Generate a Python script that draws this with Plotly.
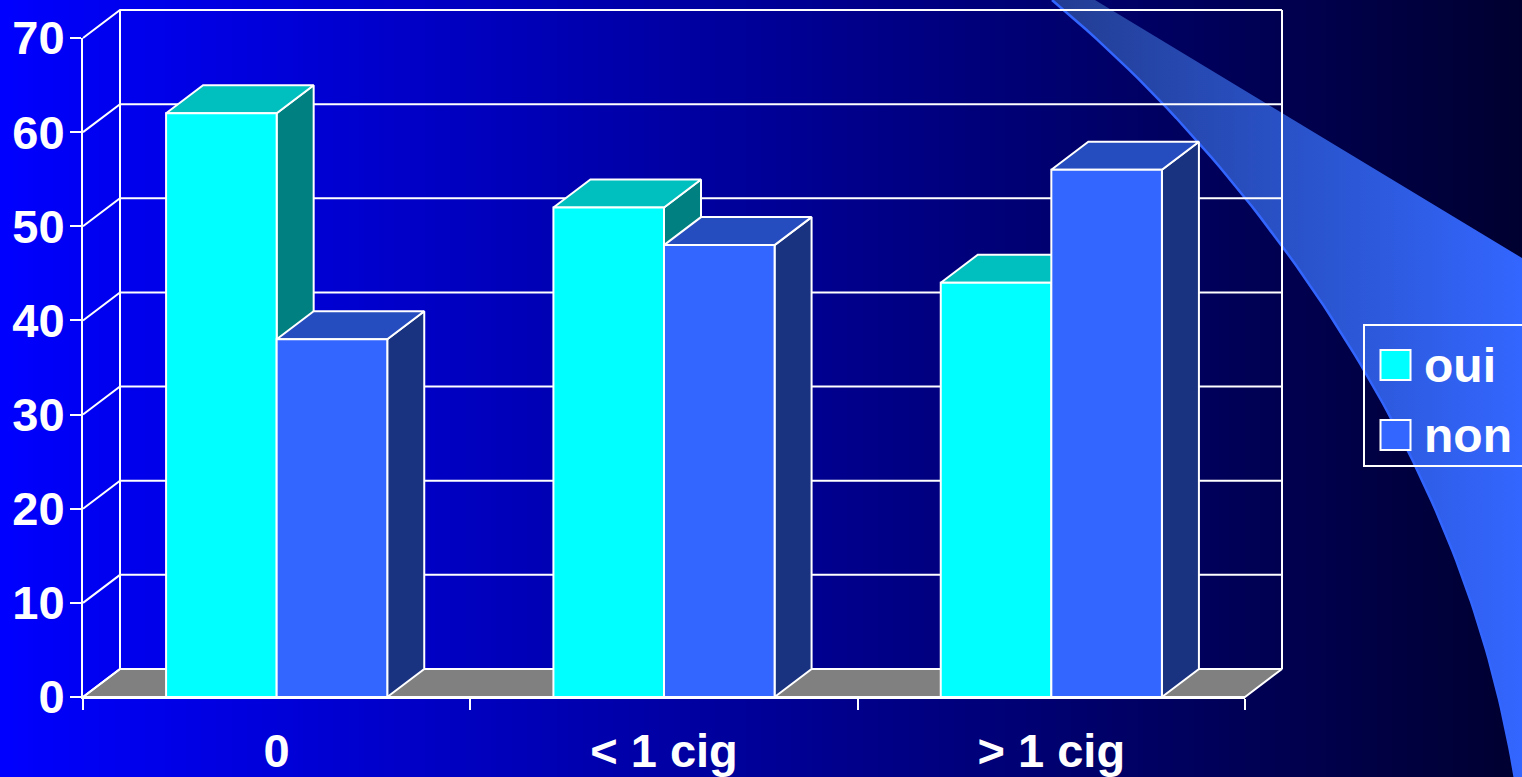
import numpy as np
import plotly.graph_objects as go

# ---- data ----
categories = ["0", "< 1 cig", "> 1 cig"]
oui_values = [62, 52, 44]
non_values = [38, 48, 56]
series_names = ["oui", "non"]
y_ticks = [0, 10, 20, 30, 40, 50, 60, 70]

# ---- styles ----
WHITE = "#ffffff"
FONT = dict(family="Liberation Sans, Arial, sans-serif", size=47, color=WHITE)
LEGEND_FONT = dict(FONT, size=48)
OUI = dict(front="#00ffff", top="#00bfbf", side="#008080")
NON = dict(front="#3366ff", top="#264dbf", side="#1a3380")
W, H = 1522, 777
X0, X1, Y0, Y1 = 83, 1245, 697, 38
PX_X = (X1 - X0) / len(categories)     # pixels per category
PX_Y = (Y0 - Y1) / y_ticks[-1]         # pixels per value unit
DX = 37 / PX_X                         # depth, category units
DY = 28 / PX_Y                         # depth, value units
PAD = 6                                # pixels of slack round the depth subplot
BAR_W = 0.2855
LW = 2
XS = list(range(len(categories)))
XL, XR = -0.5, len(categories) - 0.5
TOP = y_ticks[-1]

fig = go.Figure()

# ---- page backdrop (pixel axes x/y) ----
col = np.linspace(0, 1, 300)
fig.add_trace(go.Heatmap(x=np.linspace(0, W, 300), y=[0, H], z=[col, col], xaxis="x", yaxis="y",
                         colorscale=[[0, "rgb(0,0,255)"], [1, "rgb(0,0,48)"]],
                         showscale=False, hoverinfo="skip"))
read_x = [1052, 1162, 1197, 1243, 1280, 1320, 1340, 1363, 1383, 1412, 1440, 1467, 1487, 1503, 1515]
read_y = [0, 103, 140, 197, 243, 300, 328, 368, 407, 460, 520, 587, 653, 720, 777]
edge_y = np.linspace(0, H, 80)
edge_x = np.polyval(np.polyfit(read_y, read_x, 5), edge_y)
fig.add_trace(go.Scatter(
    x=list(edge_x) + [1522, 1522, 1095, edge_x[0]], y=list(edge_y) + [777, 258, 0, 0], xaxis="x", yaxis="y",
    mode="lines", line=dict(width=0), fill="toself",
    fillgradient=dict(type="horizontal", start=1052, stop=1522,
                      colorscale=[[0, "rgb(34,60,145)"], [0.55, "rgb(42,84,205)"], [1, "rgb(51,102,255)"]]),
    showlegend=False, hoverinfo="skip"))
fig.add_trace(go.Scatter(x=edge_x, y=edge_y, xaxis="x", yaxis="y", mode="lines",
                         line=dict(color="#3366ff", width=2.5),
                         showlegend=False, hoverinfo="skip"))

# ---- legend, hand-built because its swatches are larger than the native ones ----
fig.add_trace(go.Scatter(x=[1531, 1364, 1364, 1531], y=[325, 325, 466, 466], xaxis="x", yaxis="y",
                         mode="lines", line=dict(color=WHITE, width=LW),
                         showlegend=False, hoverinfo="skip"))
for name, pal, y in zip(series_names, [OUI, NON], [365, 435]):
    fig.add_trace(go.Scatter(x=[1395.5], y=[y], xaxis="x", yaxis="y", mode="markers",
                             marker=dict(symbol="square", size=30, color=pal["front"],
                                         line=dict(color=WHITE, width=2)),
                             showlegend=False, hoverinfo="skip"))
    fig.add_annotation(x=1422, y=y, xref="x", yref="y", text=f"<b>{name}</b>", showarrow=False,
                       xanchor="left", yanchor="middle", font=LEGEND_FONT)

# ---- floor, back wall and side wall (x2/y2: same scale as the front, extended for depth) ----
fig.add_trace(go.Scatter(x=[XL, XL + DX, XR + DX, XR, XL], y=[0, DY, DY, 0, 0], xaxis="x2", yaxis="y2",
                         mode="lines", fill="toself", fillcolor="#808080",
                         line=dict(color=WHITE, width=LW), showlegend=False, hoverinfo="skip"))
gx, gy = [], []
for t in y_ticks:
    gx += [XL, XL + DX, XR + DX, None]
    gy += [t, t + DY, t + DY, None]
gx += [XL + DX, XL + DX, None, XR + DX, XR + DX]
gy += [DY, TOP + DY, None, DY, TOP + DY]
fig.add_trace(go.Scatter(x=gx, y=gy, xaxis="x2", yaxis="y2", mode="lines",
                         line=dict(color=WHITE, width=LW), showlegend=False, hoverinfo="skip"))


# ---- side and top faces, computed from the values ----
def faces(values, offset, pal):
    for x, v in zip(XS, values):
        a, b = x + offset - BAR_W / 2, x + offset + BAR_W / 2
        fig.add_trace(go.Scatter(x=[b, b + DX, b + DX, b, b], y=[0, DY, v + DY, v, 0],
                                 xaxis="x2", yaxis="y2", mode="lines", fill="toself",
                                 fillcolor=pal["side"], line=dict(color=WHITE, width=LW),
                                 showlegend=False, hoverinfo="skip"))
        fig.add_trace(go.Scatter(x=[a, b, b + DX, a + DX, a], y=[v, v, v + DY, v + DY, v],
                                 xaxis="x2", yaxis="y2", mode="lines", fill="toself",
                                 fillcolor=pal["top"], line=dict(color=WHITE, width=LW),
                                 showlegend=False, hoverinfo="skip"))


faces(oui_values, -BAR_W / 2, OUI)
faces(non_values, BAR_W / 2, NON)

# ---- front faces and the real axes (x3/y3) ----
for name, vals, pal in zip(series_names, [oui_values, non_values], [OUI, NON]):
    fig.add_trace(go.Bar(x=XS, y=vals, name=name, xaxis="x3", yaxis="y3", showlegend=False,
                         marker=dict(color=pal["front"], line=dict(color=WHITE, width=LW))))

hidden = dict(visible=False, fixedrange=True, automargin=False)
fig.update_layout(
    template="none",
    width=W, height=H, margin=dict(l=0, r=0, t=0, b=0), autosize=False,
    paper_bgcolor="#000033", plot_bgcolor="rgba(0,0,0,0)",
    barmode="group", bargap=0.429, bargroupgap=0, showlegend=False, font=FONT,
    xaxis=dict(hidden, domain=[0, 1], range=[0, W]),
    yaxis=dict(hidden, domain=[0, 1], range=[H, 0]),
    xaxis2=dict(hidden, anchor="y2", domain=[(X0 - PAD) / W, (X1 + 37 + PAD) / W],
                range=[XL - PAD / PX_X, XR + DX + PAD / PX_X]),
    yaxis2=dict(hidden, anchor="x2", domain=[(H - Y0 - PAD) / H, (H - Y1 + 28 + PAD) / H],
                range=[-PAD / PX_Y, TOP + DY + PAD / PX_Y]),
    xaxis3=dict(domain=[X0 / W, X1 / W], range=[XL, XR], anchor="y3", fixedrange=True, automargin=False,
                showgrid=False, zeroline=False, tickmode="array", tickvals=XS,
                ticktext=[f"<b>{c}</b>" for c in categories],
                ticks="", ticklabelstandoff=12, tickfont=FONT,
                showline=True, linecolor=WHITE, linewidth=LW,
                minor=dict(ticks="outside", tick0=0.5, dtick=1, ticklen=11, tickwidth=LW,
                           tickcolor=WHITE, showgrid=False)),
    yaxis3=dict(domain=[(H - Y0) / H, (H - Y1) / H], range=[0, TOP], anchor="x3", fixedrange=True,
                automargin=False, showgrid=False, zeroline=False,
                tickmode="array", tickvals=y_ticks, ticktext=[f"<b>{t}</b>" for t in y_ticks],
                ticks="outside", ticklen=11, tickwidth=LW, tickcolor=WHITE, tickfont=FONT,
                ticklabelstandoff=-4, showline=True, linecolor=WHITE, linewidth=LW),
)

fig.write_html("out.html", config=dict(displayModeBar=False),
               post_script="document.body.style.margin='0';document.body.style.overflow='hidden';")
